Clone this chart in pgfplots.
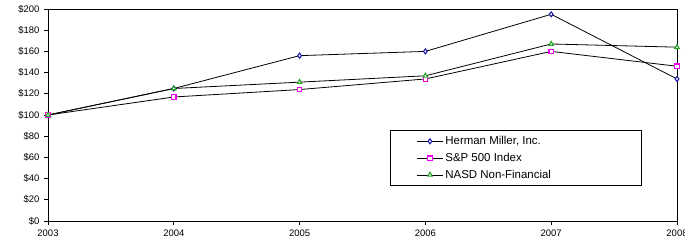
\documentclass[border=0pt]{standalone}
\usepackage{pgfplots}
\pgfplotsset{compat=1.18}
\usepackage{fontspec}
\setmainfont{Liberation Sans}
\definecolor{hmblue}{RGB}{30,30,170}
\definecolor{spmag}{RGB}{240,0,240}
\definecolor{nasdgreen}{RGB}{40,165,40}
\begin{document}
\begin{tikzpicture}
\begin{axis}[
  at={(0,0)}, anchor=south west,
  scale only axis,
  width=629bp, height=212bp,
  xmin=2003, xmax=2008,
  ymin=0, ymax=200,
  xtick={2003,2004,2005,2006,2007,2008},
  xticklabels={2003,2004,2005,2006,2007,2008},
  ytick={0,20,40,60,80,100,120,140,160,180,200},
  yticklabels={\$0,\$20,\$40,\$60,\$80,\$100,\$120,\$140,\$160,\$180,\$200},
  tick align=outside,
  xtick pos=bottom, ytick pos=left,
  major tick length=4bp,
  tick style={black, line width=0.8pt},
  axis line style={black, line width=0.9pt},
  tick label style={font=\fontsize{9.5}{10}\selectfont},
  xticklabel style={yshift=-1bp},
  yticklabel style={xshift=-1bp},
  legend style={at={(rel axis cs:0.544,0.429)}, anchor=north west,
    draw=black, line width=0.8pt, font=\fontsize{11.5}{13}\selectfont,
    row sep=3bp, inner xsep=26bp, inner ysep=4bp},
  legend cell align=left,
  legend image code/.code={
    \draw[mark repeat=2, mark phase=2, #1] plot coordinates {(0bp,0bp) (13bp,0bp) (26bp,0bp)};
  },
  every axis plot/.append style={line width=0.8pt},
]
\addplot[black, mark=diamond*, mark size=2.5pt, mark options={draw=hmblue, fill=white, solid, line width=1.1pt}]
  coordinates {(2003,100) (2004,125) (2005,156) (2006,160) (2007,195) (2008,134)};
\addlegendentry{\makebox[168bp][l]{Herman Miller, Inc.}}
\addplot[black, mark=square*, mark size=2.2pt, mark options={draw=spmag, fill=white, solid, line width=1.2pt}]
  coordinates {(2003,100) (2004,117) (2005,124) (2006,134) (2007,160) (2008,146)};
\addlegendentry{\makebox[168bp][l]{S\&P 500 Index}}
\addplot[black, mark=triangle*, mark size=2.6pt, mark options={draw=nasdgreen, fill=white, solid, line width=1.1pt}]
  coordinates {(2003,100) (2004,125) (2005,131) (2006,137) (2007,167) (2008,164)};
\addlegendentry{\makebox[168bp][l]{NASD Non-Financial}}
\end{axis}
\pgfresetboundingbox
\path[use as bounding box] (-48bp,-26bp) rectangle (637bp,221bp);
\end{tikzpicture}
\end{document}
